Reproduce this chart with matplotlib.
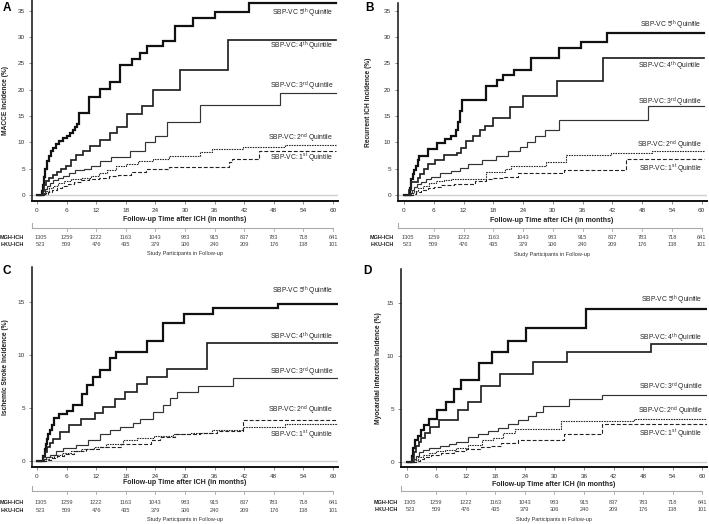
import matplotlib
matplotlib.use('Agg')
import matplotlib.pyplot as plt
from matplotlib import transforms
from matplotlib.lines import Line2D

plt.rcParams['font.family'] = ['Liberation Sans', 'DejaVu Sans']
plt.rcParams['mathtext.fontset'] = 'custom'
plt.rcParams['mathtext.rm'] = 'Liberation Sans'
plt.rcParams['mathtext.it'] = 'Liberation Sans:italic'
plt.rcParams['mathtext.bf'] = 'Liberation Sans:bold'

# ---------------- data ----------------
months_ticks = [0, 6, 12, 18, 24, 30, 36, 42, 48, 54, 60]
mgh_at_risk = [1305, 1259, 1222, 1163, 1043, 983, 915, 837, 783, 718, 641]
hku_at_risk = [523, 509, 476, 435, 379, 306, 240, 209, 176, 138, 101]
quintile_labels = [r"SBP-VC $5^{\mathrm{th}}$ Quintile",
                   r"SBP-VC: $4^{\mathrm{th}}$ Quintile",
                   r"SBP-VC: $3^{\mathrm{rd}}$ Quintile",
                   r"SBP-VC: $2^{\mathrm{nd}}$ Quintile",
                   r"SBP-VC: $1^{\mathrm{st}}$ Quintile"]
panel_letters = ["A", "B", "C", "D"]
panel_ylabels = ["MACCE Incidence (%)", "Recurrent ICH Incidence (%)",
                 "Ischemic Stroke Incidence (%)", "Myocardial Infarction Incidence (%)"]
xlabel_text = "Follow-up Time after ICH (in months)"
caption_text = "Study Participants in Follow-up"
cohorts = ["MGH-ICH", "HKU-ICH"]

# Panel A: MACCE
A_q5_t = [0, 1.0, 1.2, 1.4, 1.7, 2.0, 2.4, 2.8, 3.3, 3.9, 4.5, 5.3, 6.0, 6.7, 7.3, 7.8, 8.2, 8.6, 10.6, 12.7, 14.8, 16.8, 19.2, 20.8, 22.2, 25.6, 28.0, 31.6, 36.0, 43.0]
A_q5_y = [0, 0.8, 2.0, 3.5, 5.0, 6.5, 7.5, 8.3, 9.0, 9.7, 10.2, 10.8, 11.3, 11.8, 12.3, 12.9, 13.5, 15.6, 18.7, 20.2, 21.5, 24.6, 25.9, 27.0, 28.3, 29.3, 32.0, 33.6, 34.8, 36.4]
A_q4_t = [0, 1.2, 1.5, 1.9, 2.4, 3.2, 4.0, 4.9, 5.8, 7.0, 8.0, 9.4, 10.7, 12.8, 14.8, 16.3, 18.2, 21.2, 23.6, 29.0, 38.8]
A_q4_y = [0, 0.8, 1.9, 2.6, 3.2, 3.8, 4.4, 5.0, 5.5, 6.6, 7.6, 8.4, 9.3, 10.4, 11.7, 13.0, 15.3, 17.0, 20.0, 23.7, 29.4]
A_q3_t = [0, 1.3, 1.6, 2.0, 2.6, 3.3, 4.2, 5.2, 6.5, 7.8, 9.5, 10.9, 12.8, 15.1, 18.9, 21.9, 23.9, 26.3, 33.0, 49.3]
A_q3_y = [0, 0.5, 1.2, 1.8, 2.3, 2.8, 3.3, 3.7, 4.2, 4.7, 5.0, 5.6, 6.5, 7.3, 8.4, 10.0, 11.3, 13.8, 17.1, 19.3]
A_q2_t = [0, 1.3, 1.8, 2.5, 3.3, 4.3, 5.5, 7.0, 9.0, 11.0, 12.6, 14.2, 16.0, 18.0, 20.5, 23.6, 26.8, 33.0, 35.4, 41.8, 50.3]
A_q2_y = [0, 0.3, 0.8, 1.3, 1.8, 2.3, 2.7, 3.0, 3.3, 3.6, 4.2, 4.8, 5.5, 6.0, 6.5, 6.9, 7.4, 8.2, 8.7, 9.2, 9.6]
A_q1_t = [0, 1.5, 2.2, 3.0, 4.0, 5.0, 6.2, 7.5, 9.0, 10.5, 12.5, 14.5, 16.5, 19.0, 22.0, 26.8, 39.0, 39.6, 44.9]
A_q1_y = [0, 0.2, 0.6, 1.0, 1.4, 1.8, 2.1, 2.5, 2.8, 3.1, 3.3, 3.6, 3.8, 4.4, 5.0, 5.3, 6.2, 6.9, 8.3]

# Panel B: recurrent ICH
B_q5_t = [0, 1.2, 1.4, 1.75, 2.1, 2.4, 2.8, 3.1, 4.9, 6.6, 8.3, 9.4, 10.4, 10.8, 11.2, 11.7, 16.5, 18.7, 20.0, 22.2, 25.6, 31.3, 35.6, 41.0]
B_q5_y = [0, 1.3, 3.0, 4.0, 4.8, 5.6, 6.6, 7.5, 8.7, 9.9, 10.7, 11.2, 12.4, 13.8, 16.0, 18.1, 20.7, 21.9, 22.8, 23.7, 26.1, 27.9, 29.0, 30.8]
B_q4_t = [0, 1.1, 1.4, 2.8, 3.2, 4.0, 4.8, 6.3, 8.0, 10.6, 11.5, 12.6, 14.0, 15.4, 16.3, 17.9, 21.4, 23.9, 30.8, 40.1]
B_q4_y = [0, 1.0, 2.4, 3.2, 3.9, 4.9, 5.8, 6.7, 7.6, 8.0, 9.0, 10.3, 11.3, 12.4, 13.2, 14.6, 16.7, 18.8, 21.6, 26.0]
B_q3_t = [0, 1.3, 1.6, 2.0, 2.6, 3.4, 4.5, 5.5, 7.2, 9.4, 11.2, 13.0, 15.8, 18.5, 20.9, 23.3, 24.8, 26.5, 28.5, 31.3, 49.1]
B_q3_y = [0, 0.4, 1.0, 1.5, 2.0, 2.5, 3.0, 3.5, 4.1, 4.6, 5.2, 5.8, 6.6, 7.4, 8.3, 9.2, 10.0, 11.3, 12.3, 14.3, 16.9]
B_q2_t = [0, 1.5, 2.0, 2.8, 3.8, 5.0, 6.5, 8.0, 9.5, 16.5, 20.3, 21.6, 28.6, 32.7, 41.7, 50.0]
B_q2_y = [0, 0.3, 0.8, 1.3, 1.8, 2.2, 2.6, 2.9, 3.1, 4.3, 4.9, 5.6, 6.2, 7.6, 7.9, 8.4]
B_q1_t = [0, 1.8, 2.5, 3.5, 4.8, 6.0, 7.5, 10.0, 14.4, 16.5, 18.0, 20.2, 22.9, 32.2, 44.7]
B_q1_y = [0, 0.2, 0.5, 0.9, 1.3, 1.6, 1.9, 2.1, 2.7, 3.0, 3.3, 3.5, 4.2, 4.8, 6.8]

# Panel C: ischemic stroke
C_q5_t = [0, 1.3, 1.6, 1.8, 2.0, 2.3, 2.6, 3.0, 3.4, 4.5, 6.0, 7.4, 9.1, 10.1, 11.4, 12.8, 14.8, 16.1, 22.2, 25.6, 29.7, 35.7, 48.9]
C_q5_y = [0, 0.5, 1.1, 1.6, 2.1, 2.5, 2.9, 3.4, 4.1, 4.4, 4.7, 5.3, 6.3, 7.2, 7.9, 8.6, 9.7, 10.3, 11.3, 13.0, 13.9, 14.4, 14.8]
C_q4_t = [0, 1.3, 1.6, 2.0, 2.6, 3.3, 4.6, 6.4, 9.0, 11.8, 13.4, 15.8, 17.8, 20.2, 22.2, 26.3, 34.4]
C_q4_y = [0, 0.4, 0.8, 1.3, 1.7, 2.1, 2.7, 3.4, 4.0, 4.5, 5.1, 5.8, 6.5, 7.3, 7.9, 8.7, 11.1]
C_q3_t = [0, 1.3, 1.8, 2.6, 3.8, 5.3, 8.0, 10.4, 12.8, 14.8, 16.8, 19.5, 20.9, 23.6, 25.6, 27.0, 28.3, 32.7, 39.8]
C_q3_y = [0, 0.2, 0.4, 0.6, 0.9, 1.2, 1.5, 2.0, 2.5, 2.9, 3.2, 3.55, 4.0, 4.6, 5.3, 5.9, 6.5, 7.1, 7.8]
C_q2_t = [0, 1.5, 2.5, 3.5, 5.0, 7.0, 9.0, 11.5, 14.0, 17.5, 20.3, 23.8, 27.5, 31.0, 35.5, 41.8, 50.3]
C_q2_y = [0, 0.15, 0.35, 0.55, 0.75, 0.95, 1.15, 1.35, 1.6, 2.0, 2.2, 2.4, 2.55, 2.65, 2.9, 3.2, 3.5]
C_q1_t = [0, 1.8, 2.8, 4.0, 5.5, 7.5, 10.0, 12.5, 17.0, 23.1, 25.0, 28.0, 33.0, 36.5, 41.8]
C_q1_y = [0, 0.1, 0.3, 0.5, 0.7, 0.9, 1.1, 1.3, 1.6, 2.0, 2.3, 2.5, 2.65, 2.8, 3.9]

# Panel D: myocardial infarction
D_q5_t = [0, 1.1, 1.3, 1.6, 2.3, 3.0, 3.6, 4.5, 6.2, 8.0, 9.5, 11.0, 14.6, 17.4, 20.5, 24.2, 36.3]
D_q5_y = [0, 0.6, 1.3, 2.1, 2.5, 3.0, 3.5, 4.1, 4.9, 5.7, 6.9, 7.7, 9.3, 10.4, 11.4, 12.6, 14.4]
D_q4_t = [0, 1.1, 1.4, 1.8, 2.4, 3.0, 3.8, 4.8, 6.6, 10.4, 12.4, 15.0, 19.0, 25.6, 32.6, 49.5]
D_q4_y = [0, 0.4, 0.9, 1.5, 1.9, 2.3, 2.7, 3.3, 4.0, 4.9, 5.7, 7.2, 8.3, 9.4, 10.4, 11.1]
D_q3_t = [0, 1.3, 1.8, 2.5, 3.3, 4.5, 6.8, 8.5, 10.1, 12.4, 14.4, 16.5, 18.5, 20.6, 22.6, 24.6, 26.3, 27.7, 32.9, 39.7]
D_q3_y = [0, 0.3, 0.6, 0.9, 1.1, 1.3, 1.5, 1.7, 1.9, 2.4, 2.6, 2.9, 3.2, 3.6, 4.0, 4.3, 4.7, 5.3, 5.9, 6.3]
D_q2_t = [0, 1.5, 2.3, 3.3, 4.5, 6.0, 7.7, 10.0, 12.4, 15.2, 17.5, 19.6, 21.9, 31.3, 46.1]
D_q2_y = [0, 0.2, 0.45, 0.65, 0.85, 1.0, 1.15, 1.35, 1.6, 2.1, 2.3, 2.7, 3.1, 3.85, 4.1]
D_q1_t = [0, 1.8, 2.6, 3.6, 5.0, 7.0, 9.5, 12.0, 15.0, 17.0, 19.2, 22.6, 31.9, 39.7]
D_q1_y = [0, 0.1, 0.3, 0.5, 0.7, 0.85, 1.0, 1.2, 1.4, 1.55, 1.75, 2.1, 2.6, 3.55]

panel_curves = [
    [(A_q5_t, A_q5_y), (A_q4_t, A_q4_y), (A_q3_t, A_q3_y), (A_q2_t, A_q2_y), (A_q1_t, A_q1_y)],
    [(B_q5_t, B_q5_y), (B_q4_t, B_q4_y), (B_q3_t, B_q3_y), (B_q2_t, B_q2_y), (B_q1_t, B_q1_y)],
    [(C_q5_t, C_q5_y), (C_q4_t, C_q4_y), (C_q3_t, C_q3_y), (C_q2_t, C_q2_y), (C_q1_t, C_q1_y)],
    [(D_q5_t, D_q5_y), (D_q4_t, D_q4_y), (D_q3_t, D_q3_y), (D_q2_t, D_q2_y), (D_q1_t, D_q1_y)],
]
curve_end = [60.6, 60.5, 61.0, 60.9]

# ---------------- layout / style ----------------
W, H = 709, 524
def fx(px): return px / W
def fy(py): return 1 - py / H

layouts = [
    dict(rect=(32, 0, 338, 201), xlim=(-1, 61), ylim=(-1.1, 37), yticks=[0, 5, 10, 15, 20, 25, 30, 35],
         ylab_px=6, letter=(7, 8), xlab=(184.5, 220), table=(228, 237, 244, 254), cap_x=185, row_r=24,
         lab_y=[34.5, 28.2, 20.6, 10.8, 7.0]),
    dict(rect=(398, 3, 706.7, 201), xlim=(-1.2, 61), ylim=(-1.14, 36.5), yticks=[0, 5, 10, 15, 20, 25, 30, 35],
         ylab_px=369, letter=(369, 8), xlab=(551.5, 220.7), table=(227.7, 237.3, 244, 254.3), cap_x=552, row_r=394,
         lab_y=[32.3, 24.5, 17.7, 9.5, 5.0]),
    dict(rect=(32, 267, 338, 466.7), xlim=(-1, 61), ylim=(-0.54, 18.3), yticks=[0, 5, 10, 15],
         ylab_px=6, letter=(7, 271), xlab=(184.5, 483), table=(491, 503, 510, 520), cap_x=185, row_r=24,
         lab_y=[16.0, 11.7, 8.4, 4.8, 2.5]),
    dict(rect=(401, 269, 706.7, 466.7), xlim=(-1.16, 60.9), ylim=(-0.44, 18.2), yticks=[0, 5, 10, 15],
         ylab_px=378, letter=(367, 271), xlab=(553.7, 485), table=(490.7, 502.7, 509.3, 520), cap_x=554, row_r=398,
         lab_y=[15.2, 11.7, 7.0, 4.8, 2.67]),
]

styles = [
    dict(color='#111111', lw=1.6),
    dict(color='#222222', lw=1.25),
    dict(color='#333333', lw=0.85),
    dict(color='#222222', lw=0.8, dashes=(1.4, 0.9)),
    dict(color='#222222', lw=0.8, dashes=(3.5, 1.8)),
]

fig = plt.figure(figsize=(7.09, 5.24), dpi=100)

for k in range(4):
    L = layouts[k]
    l, t, r, b = L['rect']
    ax = fig.add_axes([fx(l), fy(b), (r - l) / W, (b - t) / H])
    ax.axhline(0, color='#cfcfcf', lw=1.0, zorder=0)
    for q, (tt, yy) in enumerate(panel_curves[k]):
        st = dict(styles[q])
        dashes = st.pop('dashes', None)
        line, = ax.step(list(tt) + [curve_end[k]], list(yy) + [yy[-1]], where='post',
                        solid_joinstyle='miter', **st)
        if dashes is not None:
            line.set_dashes(dashes)
        ax.text(60.0, L['lab_y'][q], quintile_labels[q], ha='right', va='center',
                fontsize=4.9, color='#222222')
    ax.set_xlim(*L['xlim'])
    ax.set_ylim(*L['ylim'])
    ax.set_xticks(months_ticks)
    ax.set_yticks(L['yticks'])
    ax.tick_params(axis='both', labelsize=4.6, labelcolor='#333333', color='#777777',
                   length=2.5, width=0.6, pad=2.5)
    for s in ['top', 'right']:
        ax.spines[s].set_visible(False)
    ax.spines['left'].set_linewidth(1.1)
    ax.spines['bottom'].set_linewidth(1.4)
    ax.spines['left'].set_color('#111111')
    ax.spines['bottom'].set_color('#111111')
    ax.set_ylabel(panel_ylabels[k], fontsize=4.8, fontweight='bold', color='#222222',
                  va='center', ha='center')
    ax.yaxis.set_label_coords((L['ylab_px'] - l) / (r - l), 0.5)

    # panel letter
    fig.text(fx(L['letter'][0]), fy(L['letter'][1]), panel_letters[k], fontsize=8.5,
             fontweight='bold', ha='center', va='center')
    # x label
    fig.text(fx(L['xlab'][0]), fy(L['xlab'][1]), xlabel_text, fontsize=5, fontweight='bold',
             ha='center', va='center', color='#222222')

    # at-risk table
    trans = transforms.blended_transform_factory(ax.transData, fig.transFigure)
    line_py, mgh_py, hku_py, cap_py = L['table']
    fig.add_artist(Line2D([L['xlim'][0], 60], [fy(line_py), fy(line_py)], transform=trans,
                          color='#aaaaaa', lw=0.8))
    fig.add_artist(Line2D([L['xlim'][0], L['xlim'][0]], [fy(line_py), fy(line_py - 5)], transform=trans,
                          color='#aaaaaa', lw=0.8))
    for m in months_ticks[1:]:
        fig.add_artist(Line2D([m, m], [fy(line_py), fy(line_py + 3)], transform=trans,
                              color='#aaaaaa', lw=0.6))
    for i, m in enumerate(months_ticks):
        xm = m + (0.7 if m == 0 else 0)
        fig.text(xm, fy(mgh_py), str(mgh_at_risk[i]), transform=trans, fontsize=4.1,
                 ha='center', va='center', color='#444444')
        fig.text(xm, fy(hku_py), str(hku_at_risk[i]), transform=trans, fontsize=4.1,
                 ha='center', va='center', color='#444444')
    fig.text(fx(L['row_r']), fy(mgh_py), cohorts[0], fontsize=4.0, fontweight='bold',
             ha='right', va='center', color='#222222')
    fig.text(fx(L['row_r']), fy(hku_py), cohorts[1], fontsize=4.0, fontweight='bold',
             ha='right', va='center', color='#222222')
    fig.text(fx(L['cap_x']), fy(cap_py), caption_text, fontsize=4.0, ha='center', va='center',
             color='#333333')

fig.savefig('out.png', dpi=100)
